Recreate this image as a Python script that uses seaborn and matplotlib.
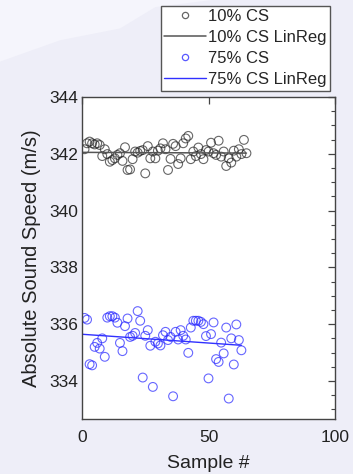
import numpy as np
import pandas as pd
import matplotlib
matplotlib.use("Agg")
import matplotlib.pyplot as plt
from matplotlib.lines import Line2D
from matplotlib.patches import Polygon
from matplotlib.ticker import MultipleLocator
import seaborn as sns

# ---- data ----
cs10_values = [342.16, 342.37, 342.43, 342.37, 342.33, 342.37, 342.31, 341.92, 342.16, 341.99,
               341.72, 341.78, 341.84, 341.96, 342.02, 341.75, 342.23, 341.43, 341.45, 341.81,
               342.08, 342.04, 342.10, 342.13, 341.31, 342.27, 341.84, 342.08, 341.84, 342.11,
               342.19, 342.37, 342.16, 341.43, 341.82, 342.35, 342.27, 341.64, 341.84, 342.37,
               342.54, 342.63, 341.81, 342.08, 341.92, 342.22, 341.99, 341.81, 342.13, 342.08,
               342.39, 342.02, 341.96, 342.46, 341.90, 342.08, 341.57, 341.84, 341.69, 342.11,
               341.90, 342.16, 341.99, 342.49, 342.02]
cs75_values = [336.22, 336.16, 334.59, 334.55, 335.20, 335.34, 335.14, 335.50, 334.85, 336.23,
               336.28, 336.28, 336.23, 336.05, 335.34, 335.05, 335.93, 336.20, 335.55, 335.59,
               335.69, 336.46, 336.12, 334.12, 335.59, 335.79, 335.24, 333.79, 335.38, 335.32,
               335.25, 335.61, 335.73, 335.44, 335.55, 333.46, 335.73, 335.46, 335.79, 335.59,
               335.46, 334.99, 335.88, 336.12, 336.12, 336.12, 336.08, 336.00, 335.58, 334.09,
               335.65, 336.06, 334.77, 334.67, 335.35, 334.97, 335.88, 333.38, 335.50, 334.58,
               335.99, 335.44, 335.08]
cs10_samples = list(range(1, len(cs10_values) + 1))
cs75_samples = list(range(1, len(cs75_values) + 1))
series_labels = ["10% CS", "10% CS LinReg", "75% CS", "75% CS LinReg"]
x_ticks = [0, 50, 100]
y_ticks = [334, 336, 338, 340, 342, 344]

BG = "#eeeef8"
FONT = ["Liberation Sans", "DejaVu Sans"]

sns.set_theme(style="white")
plt.rcParams["font.family"] = FONT

fig = plt.figure(figsize=(3.53, 4.74), dpi=100, facecolor=BG)
# subtle light swoosh in the background
fig.patches.append(Polygon([(0, 0.87), (0.17, 0.915), (0.34, 0.94), (0.44, 0.985), (0.6, 1.0), (0, 1.0)],
                           closed=True, transform=fig.transFigure, facecolor="#f5f5fc",
                           edgecolor="none", zorder=-1))
ax = fig.add_axes([82/353, 1 - 419/474, (335-82)/353, (419-97)/474])
ax.set_facecolor("white")

df10 = pd.DataFrame({"Sample": cs10_samples, "Speed": cs10_values})
df75 = pd.DataFrame({"Sample": cs75_samples, "Speed": cs75_values})

black_c = (0.15, 0.15, 0.15)
blue_c = (0.15, 0.15, 1.0)

sns.scatterplot(data=df10, x="Sample", y="Speed", ax=ax, marker="o", s=40,
                facecolors="none", edgecolor=black_c, linewidth=0.8, alpha=0.7, clip_on=True)
sns.scatterplot(data=df75, x="Sample", y="Speed", ax=ax, marker="o", s=40,
                facecolors="none", edgecolor=blue_c, linewidth=0.8, alpha=0.7, clip_on=True)

# linear regressions
for df, col, lw in [(df10, "#555555", 1.1), (df75, "#3030ff", 1.0)]:
    k, b = np.polyfit(df["Sample"], df["Speed"], 1)
    xs = np.array([0, df["Sample"].max()])
    fit = pd.DataFrame({"Sample": xs, "Speed": k * xs + b})
    sns.lineplot(data=fit, x="Sample", y="Speed", ax=ax, color=col, linewidth=lw)

ax.set_xlim(0, 100)
ax.set_ylim(332.66, 344)
ax.set_xticks(x_ticks)
ax.set_yticks(y_ticks)
ax.yaxis.set_minor_locator(MultipleLocator(0.5))
ax.tick_params(axis="both", which="both", direction="in", top=True, right=True,
               colors="#444444", labelcolor="#222222", labelsize=12.5)
ax.tick_params(which="major", length=5, width=0.9)
ax.tick_params(which="minor", length=3, width=0.8)
ax.tick_params(axis="x", which="major", pad=8)
ax.tick_params(axis="y", which="major", pad=3)
for sp in ax.spines.values():
    sp.set_color("#444444")
    sp.set_linewidth(1.0)

ax.set_xlabel("Sample #", fontsize=14, color="#222222", labelpad=7)
ax.set_ylabel("Absolute Sound Speed (m/s)", fontsize=14.5, color="#222222", labelpad=6)

handles = [
    Line2D([], [], ls="none", marker="o", ms=4.5, mfc="none", mec=(0.4, 0.4, 0.4), mew=0.9),
    Line2D([], [], color="#555555", lw=1.1),
    Line2D([], [], ls="none", marker="o", ms=4.5, mfc="none", mec=(0.35, 0.35, 1.0), mew=0.9),
    Line2D([], [], color="#3030ff", lw=1.0),
]
leg = fig.legend(handles, series_labels, loc="upper right",
                 bbox_to_anchor=(330/353, 1 - 6/474), bbox_transform=fig.transFigure,
                 frameon=True, fancybox=False, borderaxespad=0,
                 borderpad=0.2, labelspacing=0.36, handlelength=2.5, handletextpad=0.15,
                 prop={"family": FONT, "size": 12})
leg.get_frame().set_edgecolor("#555555")
leg.get_frame().set_linewidth(1.0)
leg.get_frame().set_facecolor("white")
leg.get_frame().set_alpha(1)

fig.savefig("out.png", dpi=100, facecolor=BG)
